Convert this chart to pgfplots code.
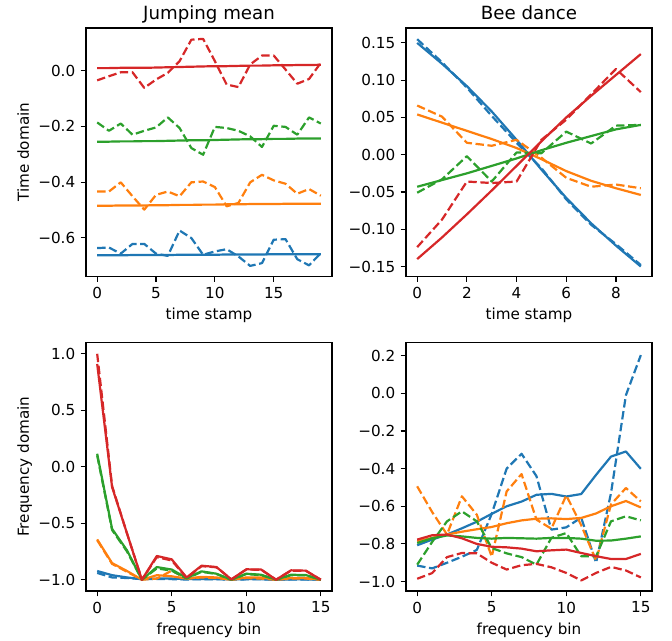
\documentclass[border=0pt]{standalone}
\usepackage{fontspec}
\setmainfont{DejaVu Sans}
\usepackage{pgfplots}
\usepackage{pgfplotstable}
\pgfplotsset{compat=1.18}

\definecolor{c0}{HTML}{1F77B4}
\definecolor{c1}{HTML}{FF7F0E}
\definecolor{c2}{HTML}{2CA02C}
\definecolor{c3}{HTML}{D62728}

\newcommand\ticksize{\fontsize{15.2bp}{18bp}\selectfont}
\newcommand\titlesize{\fontsize{18.2bp}{22bp}\selectfont}

% b/o/g/r = colour, s = solid, d = dashed
\pgfplotstableread{
t bs bd os od gs gd rs rd
0 -0.663 -0.637 -0.485 -0.434 -0.255 -0.186 0.009 -0.035
1 -0.663 -0.635 -0.485 -0.434 -0.255 -0.216 0.009 -0.020
2 -0.663 -0.657 -0.484 -0.401 -0.254 -0.190 0.010 -0.006
3 -0.662 -0.622 -0.484 -0.451 -0.254 -0.230 0.010 -0.006
4 -0.662 -0.622 -0.484 -0.499 -0.253 -0.216 0.010 -0.062
5 -0.662 -0.657 -0.483 -0.446 -0.253 -0.204 0.011 -0.032
6 -0.662 -0.665 -0.483 -0.434 -0.252 -0.168 0.012 -0.008
7 -0.661 -0.574 -0.482 -0.451 -0.251 -0.206 0.013 0.034
8 -0.661 -0.601 -0.482 -0.401 -0.250 -0.278 0.014 0.111
9 -0.661 -0.661 -0.481 -0.398 -0.250 -0.302 0.015 0.114
10 -0.661 -0.649 -0.481 -0.418 -0.249 -0.202 0.016 0.034
11 -0.660 -0.641 -0.480 -0.487 -0.248 -0.206 0.016 -0.050
12 -0.660 -0.667 -0.480 -0.475 -0.247 -0.216 0.017 -0.059
13 -0.660 -0.701 -0.479 -0.401 -0.246 -0.236 0.018 0.022
14 -0.660 -0.691 -0.479 -0.374 -0.246 -0.274 0.018 0.054
15 -0.659 -0.607 -0.479 -0.394 -0.245 -0.198 0.019 0.054
16 -0.659 -0.605 -0.478 -0.406 -0.245 -0.202 0.019 0.004
17 -0.659 -0.677 -0.478 -0.442 -0.244 -0.230 0.020 -0.047
18 -0.659 -0.699 -0.478 -0.425 -0.244 -0.168 0.020 -0.030
19 -0.659 -0.655 -0.478 -0.449 -0.244 -0.190 0.021 0.028
}\jumptime

\pgfplotstableread{
t bs bd os od gs gd rs rd
0 0.150 0.155 0.054 0.066 -0.043 -0.051 -0.140 -0.124
1 0.122 0.124 0.043 0.051 -0.034 -0.033 -0.111 -0.087
2 0.092 0.090 0.032 0.016 -0.025 -0.002 -0.080 -0.036
3 0.058 0.052 0.021 0.012 -0.015 -0.036 -0.048 -0.038
4 0.020 0.016 0.009 0.020 -0.005 0.003 -0.015 -0.036
5 -0.020 -0.018 -0.006 -0.004 0.006 0.002 0.018 0.020
6 -0.058 -0.060 -0.022 -0.031 0.016 0.031 0.050 0.047
7 -0.092 -0.094 -0.035 -0.043 0.025 0.015 0.079 0.081
8 -0.122 -0.120 -0.045 -0.040 0.034 0.039 0.107 0.115
9 -0.150 -0.148 -0.054 -0.045 0.040 0.040 0.135 0.084
}\beetime

\pgfplotstableread{
t bs bd os od gs gd rs rd
0 -0.923 -0.940 -0.643 -0.650 0.115 0.100 0.910 1.000
1 -0.960 -0.980 -0.853 -0.860 -0.550 -0.560 -0.180 -0.170
2 -0.980 -0.985 -0.923 -0.930 -0.740 -0.750 -0.590 -0.590
3 -0.995 -0.995 -1.000 -1.000 -1.000 -1.000 -1.000 -1.000
4 -0.990 -0.995 -0.960 -0.990 -0.888 -0.900 -0.790 -0.800
5 -0.990 -0.995 -0.970 -0.920 -0.910 -0.920 -0.820 -0.830
6 -0.995 -0.998 -0.990 -0.990 -0.985 -0.990 -0.980 -0.985
7 -0.993 -0.996 -0.975 -0.980 -0.926 -0.930 -0.876 -0.880
8 -0.993 -0.996 -0.980 -0.985 -0.947 -0.950 -0.888 -0.890
9 -0.998 -0.999 -1.000 -1.000 -1.000 -1.000 -0.997 -0.997
10 -0.995 -0.997 -0.980 -0.985 -0.947 -0.950 -0.908 -0.910
11 -0.995 -0.997 -0.980 -0.990 -0.956 -0.960 -0.910 -0.912
12 -1.000 -1.000 -1.000 -1.000 -1.000 -1.000 -1.000 -1.000
13 -0.997 -0.998 -0.985 -0.990 -0.956 -0.960 -0.917 -0.920
14 -0.997 -0.998 -0.985 -0.990 -0.959 -0.960 -0.920 -0.922
15 -1.000 -1.000 -1.000 -1.000 -1.000 -1.000 -1.000 -1.000
}\jumpfreq

\pgfplotstableread{
t bs bd os od gs gd rs rd
0 -0.807 -0.915 -0.786 -0.494 -0.795 -0.910 -0.777 -0.985
1 -0.777 -0.930 -0.768 -0.630 -0.770 -0.790 -0.754 -0.955
2 -0.750 -0.900 -0.750 -0.750 -0.755 -0.680 -0.750 -0.870
3 -0.717 -0.868 -0.735 -0.547 -0.760 -0.627 -0.770 -0.848
4 -0.682 -0.832 -0.722 -0.645 -0.768 -0.680 -0.800 -0.850
5 -0.640 -0.640 -0.710 -0.868 -0.772 -0.822 -0.815 -0.900
6 -0.600 -0.400 -0.690 -0.521 -0.768 -0.850 -0.818 -0.936
7 -0.575 -0.321 -0.675 -0.429 -0.770 -0.870 -0.825 -0.913
8 -0.539 -0.440 -0.666 -0.671 -0.772 -0.910 -0.839 -0.906
9 -0.534 -0.724 -0.664 -0.719 -0.768 -0.768 -0.834 -0.924
10 -0.548 -0.712 -0.668 -0.542 -0.768 -0.742 -0.830 -0.954
11 -0.535 -0.660 -0.662 -0.700 -0.772 -0.865 -0.848 -0.994
12 -0.433 -0.900 -0.638 -0.888 -0.783 -0.865 -0.865 -0.954
13 -0.336 -0.530 -0.600 -0.590 -0.782 -0.680 -0.880 -0.922
14 -0.309 -0.010 -0.572 -0.503 -0.772 -0.653 -0.880 -0.941
15 -0.401 0.203 -0.606 -0.574 -0.760 -0.675 -0.853 -0.978
}\beefreq

\pgfplotsset{
  every axis title shift=0pt,
  panel/.style={
    scale only axis, width=246bp, height=248.5bp,
    axis line style={line width=1.1bp},
    tick align=outside, major tick length=5.3bp,
    every tick/.style={black, line width=1.1bp},
    xtick pos=bottom, ytick pos=left,
    /pgf/number format/assume math mode=true,
    tick label style={font=\ticksize},
    label style={font=\ticksize},
    title style={font=\titlesize, at={(axis description cs:0.5,1.0334)}, anchor=base},
    xticklabel style={anchor=north, inner sep=0pt, yshift=-5.3bp},
    yticklabel style={anchor=east, inner sep=0pt, xshift=-5.3bp},
    xlabel style={at={(axis description cs:0.5,-0.1747)}, anchor=base},
    ylabel style={at={(axis description cs:-0.2321,0.5)}, anchor=base},
    every axis plot/.append style={line width=2.2bp, no markers, line join=round},
  },
  dsh/.style={dash pattern=on 8.4bp off 3.6bp},
}

\newcommand\eightlines[1]{%
  \addplot[c0, dsh] table[x=t, y=bd] {#1};
  \addplot[c0] table[x=t, y=bs] {#1};
  \addplot[c1, dsh] table[x=t, y=od] {#1};
  \addplot[c1] table[x=t, y=os] {#1};
  \addplot[c2, dsh] table[x=t, y=gd] {#1};
  \addplot[c2] table[x=t, y=gs] {#1};
  \addplot[c3, dsh] table[x=t, y=rd] {#1};
  \addplot[c3] table[x=t, y=rs] {#1};
}

\begin{document}
\begin{tikzpicture}
\path[use as bounding box] (0,0) rectangle (672bp,641bp);

\begin{axis}[panel, at={(86bp,364.5bp)}, anchor=south west,
  title={Jumping mean}, xlabel={time stamp}, ylabel={Time domain},
  xmin=-0.95, xmax=19.95, ymin=-0.739, ymax=0.153,
  xtick={0,5,10,15},
  ytick={-0.6,-0.4,-0.2,0}, yticklabels={−0.6,−0.4,−0.2,0.0}]
\eightlines{\jumptime}
\end{axis}

\begin{axis}[panel, at={(406bp,364.5bp)}, anchor=south west,
  title={Bee dance}, xlabel={time stamp},
  xmin=-0.45, xmax=9.45, ymin=-0.1634, ymax=0.170,
  xtick={0,2,4,6,8},
  ytick={-0.15,-0.1,-0.05,0,0.05,0.1,0.15},
  yticklabels={−0.15,−0.10,−0.05,0.00,0.05,0.10,0.15}]
\eightlines{\beetime}
\end{axis}

\begin{axis}[panel, at={(86bp,50bp)}, anchor=south west,
  xlabel={frequency bin}, ylabel={Frequency domain},
  xmin=-0.75, xmax=15.75, ymin=-1.1, ymax=1.1,
  xtick={0,5,10,15},
  ytick={-1,-0.5,0,0.5,1}, yticklabels={−1.0,−0.5,0.0,0.5,1.0}]
\eightlines{\jumpfreq}
\end{axis}

\begin{axis}[panel, at={(406bp,50bp)}, anchor=south west,
  xlabel={frequency bin},
  xmin=-0.75, xmax=15.75, ymin=-1.05, ymax=0.27,
  xtick={0,5,10,15},
  ytick={-1,-0.8,-0.6,-0.4,-0.2,0,0.2},
  yticklabels={−1.0,−0.8,−0.6,−0.4,−0.2,0.0,0.2}]
\eightlines{\beefreq}
\end{axis}
\end{tikzpicture}
\end{document}
